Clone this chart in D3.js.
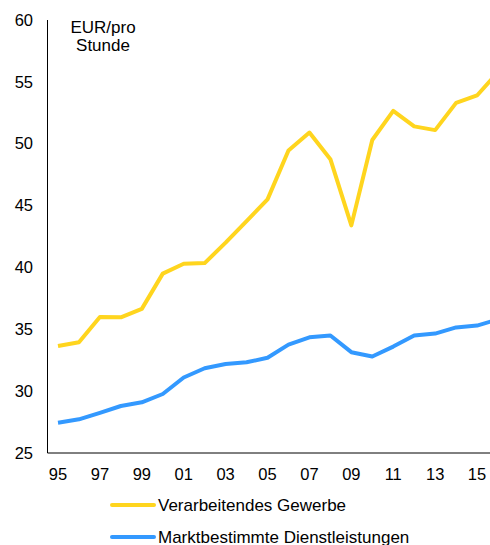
<!DOCTYPE html>
<meta charset="utf-8">
<html>
	<head>
		<script src="https://cdn.jsdelivr.net/npm/d3@7"></script>
		<style>
			body { margin: 0; background: #fff; }
			text { font-family: "Liberation Sans", Arial, sans-serif; fill: #000; }
		</style>
	</head>
	<body>
		<script>
			// Data
			var years = d3.range(1995, 2017);
			var tickYears = [1995, 1997, 1999, 2001, 2003, 2005, 2007, 2009, 2011, 2013, 2015];
			var yTicks = [25, 30, 35, 40, 45, 50, 55, 60];
			var verarbeitend = [33.65, 33.95, 36.0, 35.97, 36.65, 39.5, 40.3, 40.35, 42.0, 43.75, 45.5,
				49.45, 50.9, 48.75, 43.4, 50.3, 52.65, 51.4, 51.1, 53.3, 53.9, 55.8];
			var dienstleistungen = [27.45, 27.72, 28.25, 28.8, 29.1, 29.77, 31.1, 31.85, 32.2, 32.33, 32.7,
				33.76, 34.35, 34.5, 33.15, 32.8, 33.6, 34.5, 34.65, 35.15, 35.3, 35.8];
			var seriesNames = ["Verarbeitendes Gewerbe", "Marktbestimmte Dienstleistungen"];
			var colors = ["#FFD51E", "#3399FF"];

			var width = 490, height = 545;
			var margin = {top: 20, left: 47.5};

			var svg = d3.select("body").append("svg")
				.attr("width", width)
				.attr("height", height);

			var x = d3.scaleLinear().domain([1995, 2016]).range([58, 498]);
			var y = d3.scaleLinear().domain([25, 60]).range([453, 20]);

			// y axis
			svg.append("line")
				.attr("x1", margin.left).attr("x2", margin.left)
				.attr("y1", y(60)).attr("y2", y(25))
				.attr("stroke", "#000").attr("stroke-width", 1);

			svg.append("g").selectAll("text")
				.data(yTicks)
				.enter().append("text")
				.attr("x", 33)
				.attr("y", function(d) { return y(d); })
				.attr("dy", "0.35em")
				.attr("text-anchor", "end")
				.attr("font-size", 16.5)
				.text(function(d) { return d; });

			// x axis
			svg.append("line")
				.attr("x1", margin.left).attr("x2", width)
				.attr("y1", y(25)).attr("y2", y(25))
				.attr("stroke", "#000").attr("stroke-width", 1);

			svg.append("g").selectAll("text")
				.data(tickYears)
				.enter().append("text")
				.attr("x", function(d) { return x(d); })
				.attr("y", 480)
				.attr("text-anchor", "middle")
				.attr("font-size", 16.5)
				.text(function(d) { return String(d % 100).padStart(2, "0"); });

			// unit label
			var unit = svg.append("text")
				.attr("text-anchor", "middle")
				.attr("font-size", 17);
			unit.append("tspan").attr("x", 103).attr("y", 33).text("EUR/pro");
			unit.append("tspan").attr("x", 103).attr("y", 51).text("Stunde");

			// lines
			var line = d3.line()
				.x(function(d, i) { return x(years[i]); })
				.y(function(d) { return y(d); });

			[verarbeitend, dienstleistungen].forEach(function(s, i) {
				svg.append("path")
					.datum(s)
					.attr("fill", "none")
					.attr("stroke", colors[i])
					.attr("stroke-width", 4)
					.attr("stroke-linejoin", "round")
					.attr("d", line);
			});

			// legend
			var legend = svg.append("g").selectAll("g")
				.data(seriesNames)
				.enter().append("g")
				.attr("transform", function(d, i) { return "translate(0," + (505 + i * 32) + ")"; });

			legend.append("line")
				.attr("x1", 112).attr("x2", 154)
				.attr("stroke", function(d, i) { return colors[i]; })
				.attr("stroke-width", 4)
				.attr("stroke-linecap", "round");

			legend.append("text")
				.attr("x", 158)
				.attr("dy", "0.35em")
				.attr("font-size", 17)
				.text(function(d) { return d; });
		</script>
	</body>
</html>
